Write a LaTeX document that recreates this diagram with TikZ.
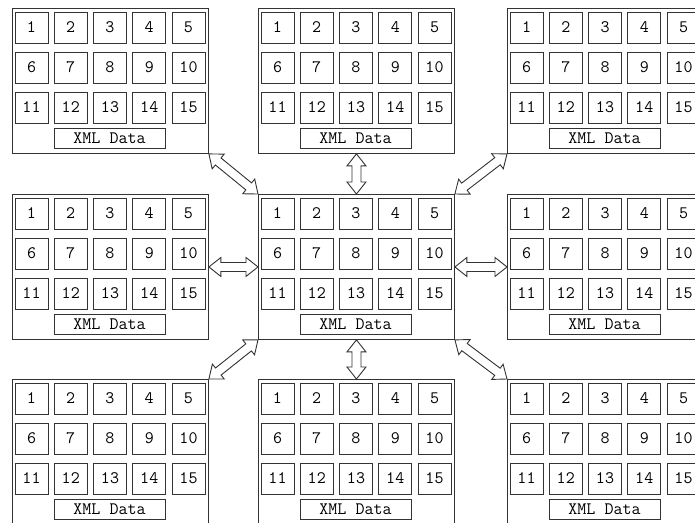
\documentclass[tikz,border=0pt]{standalone}
\usepackage{fontspec}
\usetikzlibrary{calc}

\tikzset{
  panel/.style={draw=black!80, line width=0.9pt, minimum width=196pt,
    minimum height=145pt, inner sep=0pt, anchor=north west},
  cell/.style={draw=black!80, line width=1pt, minimum width=33pt,
    minimum height=31pt, inner sep=0pt,
    font=\ttfamily\fontsize{17.5}{17.5}\selectfont},
  datalabel/.style={cell, minimum width=111pt, minimum height=20pt},
  linkarrow/.style={draw=black!80, fill=white, line width=0.9pt, line join=miter}
}

% hollow double arrow between two anchors
\newcommand\xmllink[2]{%
  \draw[linkarrow] let \p1=(#1), \p2=(#2), \n1={atan2(\y2-\y1,\x2-\x1)} in
    (\p1) -- ($(\p1)+(\n1:12pt)+(\n1+90:9.5pt)$) -- ($(\p1)+(\n1:12pt)+(\n1+90:4.5pt)$)
    -- ($(\p2)+(\n1+180:12pt)+(\n1+90:4.5pt)$) -- ($(\p2)+(\n1+180:12pt)+(\n1+90:9.5pt)$)
    -- (\p2) -- ($(\p2)+(\n1+180:12pt)+(\n1-90:9.5pt)$) -- ($(\p2)+(\n1+180:12pt)+(\n1-90:4.5pt)$)
    -- ($(\p1)+(\n1:12pt)+(\n1-90:4.5pt)$) -- ($(\p1)+(\n1:12pt)+(\n1-90:9.5pt)$) -- cycle;}

\begin{document}
\begin{tikzpicture}[x=1pt, y=-1pt]
  \useasboundingbox (0,0) rectangle (695,522);
  \clip (0,0) rectangle (695,522);
  % nine panels
  \foreach \r/\py in {1/8,2/194,3/379}
    \foreach \c/\px in {1/12,2/258,3/507} {
      \node[panel] (p\r\c) at (\px,\py) {};
      \foreach \i in {0,...,2}
        \foreach \j in {0,...,4} {
          \pgfmathtruncatemacro\num{5*\i+\j+1}
          \node[cell] (p\r\c-\num) at ($(p\r\c.north west)+(19.5+39.25*\j,19.5+40*\i)$) {\num};
        }
      \node[datalabel] (p\r\c-xml) at ($(p\r\c.north west)+(97.5,130)$) {XML Data};
    }
  % links to the middle panel
  \xmllink{p12.south}{p22.north}
  \xmllink{p22.south}{p32.north}
  \xmllink{p21.east}{p22.west}
  \xmllink{p22.east}{p23.west}
  \xmllink{p11.south east}{p22.north west}
  \xmllink{p13.south west}{p22.north east}
  \xmllink{p31.north east}{p22.south west}
  \xmllink{p33.north west}{p22.south east}
\end{tikzpicture}
\end{document}
